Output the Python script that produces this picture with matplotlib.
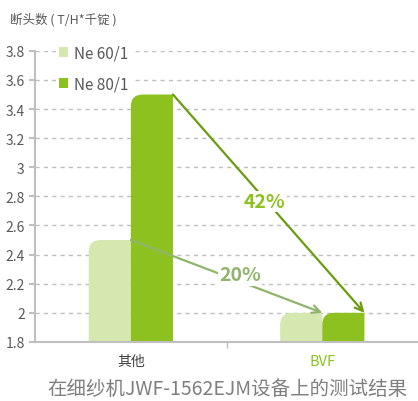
import matplotlib
matplotlib.use('Agg')
import matplotlib.pyplot as plt
from matplotlib.path import Path
from matplotlib.patches import PathPatch, Patch
import numpy as np

plt.rcParams['font.family'] = ['Noto Sans CJK SC', 'DejaVu Sans']

categories = ['其他', 'BVF']
ne60 = [2.5, 2.0]
ne80 = [3.5, 2.0]
series_names = ['Ne 60/1', 'Ne 80/1']
yticks = [1.8, 2.0, 2.2, 2.4, 2.6, 2.8, 3.0, 3.2, 3.4, 3.6, 3.8]
ytick_labels = ['1.8', '2', '2.2', '2.4', '2.6', '2.8', '3', '3.2', '3.4', '3.6', '3.8']
drop_80 = '42%'
drop_60 = '20%'

light = '#d5e8af'
dark = '#8cc11f'
grey = '#595959'

fig = plt.figure(figsize=(4.18, 4.02), dpi=100)
ax = fig.add_axes([0.084, 0.147, 0.916, 0.724])

x = np.arange(len(categories))
w = 0.22
b1 = ax.bar(x - w / 2, ne60, w, color=light, zorder=2)
b2 = ax.bar(x + w / 2, ne80, w, color=dark, zorder=2)

ax.set_xlim(-0.5, 1.5)
ax.set_ylim(1.8, 3.8)
ax.set_yticks(yticks)
ax.set_yticklabels(ytick_labels)
ax.yaxis.grid(True, color='#bfbfbf', linestyle=(0, (3, 3)), linewidth=1)
ax.set_axisbelow(True)

# round the top-left corner of every bar
fig.canvas.draw()
radius = 12  # pixels
p0 = ax.transData.transform((0, 0))
p1 = ax.transData.transform((1, 1))
rx = radius / (p1[0] - p0[0])
ry = radius / (p1[1] - p0[1])
for bars in (b1, b2):
    for r in bars:
        x0, y0 = r.get_x(), r.get_y()
        x1, y1 = x0 + r.get_width(), y0 + r.get_height()
        verts = [(x0, y0), (x0, y1 - ry), (x0, y1), (x0 + rx, y1),
                 (x1, y1), (x1, y0), (x0, y0)]
        codes = [Path.MOVETO, Path.LINETO, Path.CURVE3, Path.CURVE3,
                 Path.LINETO, Path.LINETO, Path.CLOSEPOLY]
        ax.add_patch(PathPatch(Path(verts, codes), facecolor=r.get_facecolor(),
                               edgecolor='none', zorder=2))
        r.set_visible(False)

for s in ['top', 'right']:
    ax.spines[s].set_visible(False)
ax.spines['left'].set_color('#bfbfbf')
ax.spines['bottom'].set_color('#bfbfbf')
ax.spines['left'].set_linewidth(1.5)
ax.spines['bottom'].set_linewidth(1.5)
ax.tick_params(axis='y', colors='#bfbfbf', labelcolor=grey, labelsize=10, length=4, width=1.5)

# category labels + boundary tick
ax.set_xticks([0.5])
ax.set_xticklabels([''])
ax.tick_params(axis='x', colors='#bfbfbf', length=4, width=1)
ax.text(0, 1.8 - 0.13, categories[0], ha='center', va='center', fontsize=10, color='#404040')
ax.text(1, 1.8 - 0.13, categories[1], ha='center', va='center', fontsize=10.5, color=dark)

# arrows
ax.annotate('', xy=(1 + w, ne80[1]), xytext=(w, ne80[0]),
            arrowprops=dict(arrowstyle='->', color='#6b9b10', lw=1.6, shrinkA=0, shrinkB=0,
                            mutation_scale=14), zorder=3)
ax.annotate('', xy=(1, ne60[1]), xytext=(0, ne60[0]),
            arrowprops=dict(arrowstyle='->', color='#8fb56a', lw=1.6, shrinkA=0, shrinkB=0,
                            mutation_scale=14), zorder=3)
ax.text(0.698, 2.765, drop_80, ha='center', va='center', fontsize=14, fontweight='bold',
        color=dark, zorder=4, bbox=dict(facecolor='white', edgecolor='none', pad=1))
ax.text(0.57, 2.26, drop_60, ha='center', va='center', fontsize=14, fontweight='bold',
        color='#8fb56a', zorder=4, bbox=dict(facecolor='white', edgecolor='none', pad=1))

handles = [Patch(facecolor=light, edgecolor='none'), Patch(facecolor=dark, edgecolor='none')]
leg = ax.legend(handles, series_names, loc='upper left', bbox_to_anchor=(0.035, 1.06),
                frameon=True, fontsize=11, handlelength=0.6, handleheight=0.6,
                handletextpad=0.4, labelspacing=0.95, borderpad=0.2, labelcolor=grey)
leg.get_frame().set_edgecolor('none')
leg.get_frame().set_facecolor('white')
leg.get_frame().set_alpha(1)

fig.text(0.024, 0.95, '断头数 ( T/H*千锭 )', fontsize=9, color=grey, ha='left', va='center')
fig.text(0.545, 0.03, '在细纱机JWF-1562EJM设备上的测试结果', fontsize=14, color='#7f7f7f',
         ha='center', va='center')

fig.savefig('out.png', dpi=100)
